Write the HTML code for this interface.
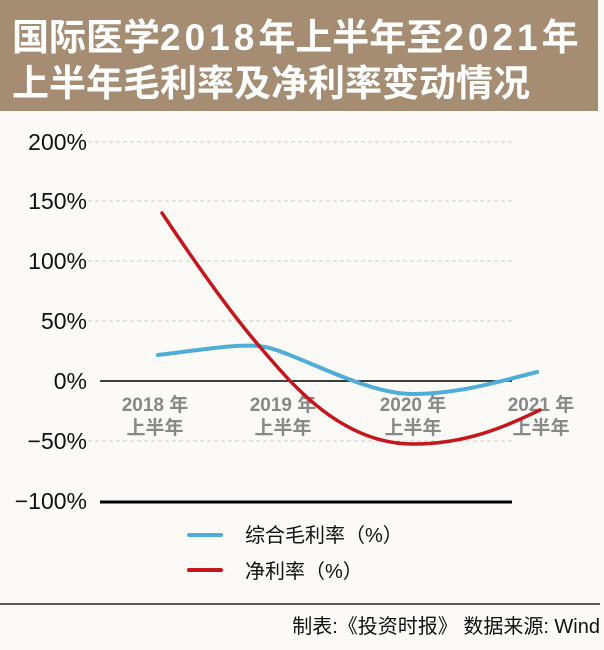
<!DOCTYPE html>
<html><head><meta charset="utf-8"><style>
body{margin:0;width:604px;height:650px;background:#fbfaf6;position:relative;overflow:hidden;font-family:"Liberation Sans","Noto Sans CJK SC",sans-serif}
.tb{position:absolute;left:0;top:0;width:598px;height:111px;background:#a58d73}
.t{position:absolute;left:12px;color:#fff;font-weight:bold;font-size:37px;line-height:40px;white-space:nowrap;font-family:"Liberation Sans","Noto Sans CJK SC",sans-serif}
.d{letter-spacing:4px}
</style></head><body>
<div class="tb"></div>
<div class="t" style="top:18px">国际医学<span class="d">2018</span>年上半年至<span class="d">2021</span>年</div>
<div class="t" style="top:64px">上半年毛利率及净利率变动情况</div>
<svg width="604" height="650" style="position:absolute;left:0;top:0">
<g stroke="#ccc" stroke-dasharray="4,3" stroke-width="1">
<line x1="88" x2="512" y1="142" y2="142"/><line x1="88" x2="512" y1="201" y2="201"/>
<line x1="88" x2="512" y1="261" y2="261"/><line x1="88" x2="512" y1="321" y2="321"/>
<line x1="88" x2="512" y1="441" y2="441"/></g>
<line x1="100" x2="512" y1="381" y2="381" stroke="#000" stroke-width="1.5"/>
<line x1="100" x2="512" y1="502" y2="502" stroke="#000" stroke-width="3"/>
<line x1="0" x2="600" y1="604" y2="604" stroke="#222" stroke-width="1.5"/>
<g font-size="23" text-anchor="end" fill="#111">
<text x="87" y="150">200%</text><text x="87" y="209">150%</text><text x="87" y="269">100%</text>
<text x="87" y="329">50%</text><text x="87" y="389">0%</text><text x="87" y="449">−50%</text><text x="87" y="509">−100%</text></g>
<g font-size="19" font-weight="bold" text-anchor="middle" fill="#888">
<text x="155" y="411">2018 年</text><text x="155" y="434">上半年</text>
<text x="283" y="411">2019 年</text><text x="283" y="434">上半年</text>
<text x="413" y="411">2020 年</text><text x="413" y="434">上半年</text>
<text x="541" y="411">2021 年</text><text x="541" y="434">上半年</text></g>
<path d="M158,355 C200,350 235,344 258,346 C290,348 360,394 413,394 C460,394 505,380 537,372" fill="none" stroke="#4fadd9" stroke-width="4" stroke-linecap="round"/>
<path d="M162,213 C200,270 235,318 260,347 C290,382 340,444 413,444 C470,444 510,424 540,410" fill="none" stroke="#c4161c" stroke-width="3.5" stroke-linecap="round"/>
<line x1="189" x2="221" y1="535" y2="535" stroke="#4fadd9" stroke-width="4" stroke-linecap="round"/>
<line x1="189" x2="221" y1="570" y2="570" stroke="#c4161c" stroke-width="4" stroke-linecap="round"/>
<g font-size="20" fill="#111"><text x="245" y="542">综合毛利率（%）</text><text x="245" y="578">净利率（%）</text>
<text x="600" y="633" text-anchor="end">制表:《投资时报》 数据来源: Wind</text></g>
</svg>
</body></html>
